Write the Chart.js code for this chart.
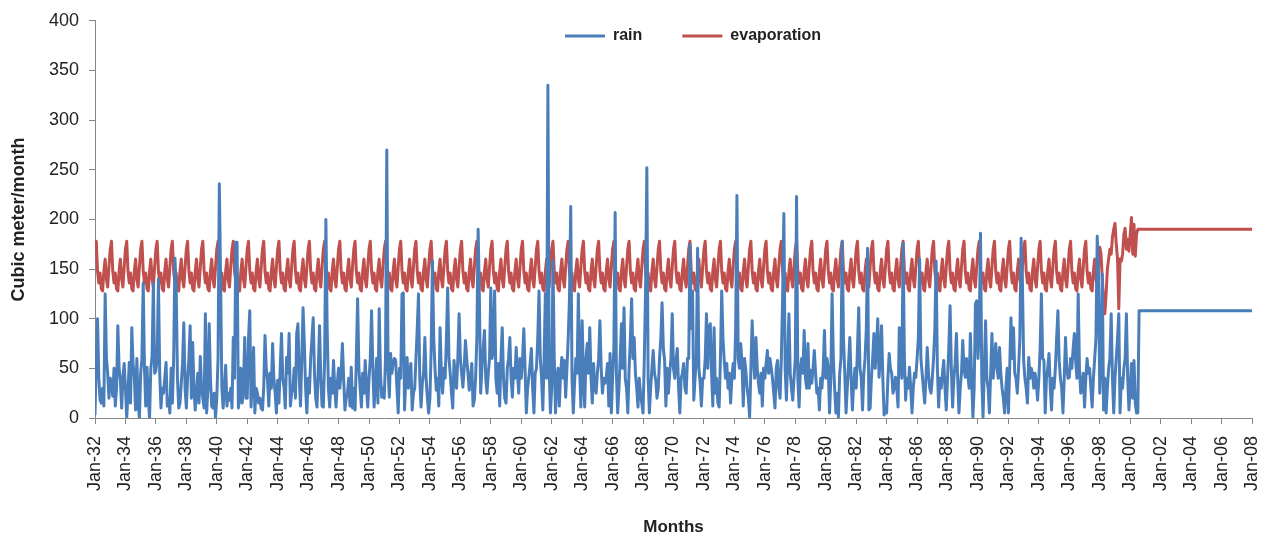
<!DOCTYPE html>
<html>
<head>
<meta charset="utf-8">
<script src="https://cdn.jsdelivr.net/npm/chart.js@4.4.1/dist/chart.umd.min.js"></script>
<style>
    html, body { margin: 0; padding: 0; background: #fff; }
    #wrap { width: 1263px; height: 540px; position: relative; }
</style>
</head>
<body>
<div id="wrap"><canvas id="rain-evap-chart"></canvas></div>
<script>
// monthly series, Jan-32 .. Jan-08
const firstYear = 1932;
const lastYear = 2008;
const monthNames = ['Jan', 'Feb', 'Mar', 'Apr', 'May', 'Jun', 'Jul', 'Aug', 'Sep', 'Oct', 'Nov', 'Dec'];

// rain, one row per year (Jan..Dec)
const rain1930s = [
    3, 60, 100, 40, 18, 15, 30, 12, 125, 60, 45, 20,
    40, 35, 22, 50, 12, 30, 93, 50, 38, 10, 41, 55,
    30, 0, 25, 56, 15, 91, 55, 40, 8, 60, 15, 0,
    45, 60, 136, 50, 12, 51, 20, 0, 50, 62, 136, 45,
    48, 60, 140, 45, 10, 30, 25, 40, 56, 12, 20, 5,
    50, 15, 60, 161, 130, 40, 10, 15, 35, 55, 96, 30,
    10, 40, 60, 93, 20, 76, 30, 8, 25, 45, 15, 62,
    30, 20, 10, 105, 5, 30, 95, 40, 12, 10, 25, 0
];
const rain1940s = [
    20, 60, 236, 140, 30, 10, 30, 53, 12, 25, 18, 30,
    10, 81, 40, 177, 177, 10, 20, 50, 15, 30, 81, 20,
    20, 80, 108, 11, 40, 71, 5, 30, 25, 15, 20, 10,
    8, 30, 83, 50, 38, 12, 45, 30, 75, 40, 25, 5,
    38, 15, 50, 85, 40, 31, 10, 61, 45, 85, 12, 25,
    30, 50, 20, 85, 95, 40, 12, 60, 111, 75, 30, 5,
    40, 25, 60, 80, 101, 45, 20, 11, 50, 93, 40, 12,
    11, 60, 200, 90, 30, 11, 40, 25, 58, 30, 11, 35,
    50, 30, 45, 75, 40, 8, 20, 25, 40, 12, 51, 10,
    30, 8, 60, 120, 50, 30, 11, 45, 25, 58, 30, 11
];
const rain1950s = [
    40, 60, 108, 50, 11, 35, 60, 15, 110, 45, 21, 30,
    20, 60, 270, 50, 21, 65, 45, 55, 60, 58, 30, 5,
    50, 40, 125, 126, 8, 40, 61, 30, 45, 55, 8, 25,
    30, 60, 90, 125, 40, 11, 35, 45, 81, 40, 20, 5,
    20, 70, 158, 80, 50, 28, 40, 12, 91, 45, 25, 50,
    40, 80, 131, 60, 45, 25, 10, 58, 40, 30, 60, 105,
    60, 45, 31, 50, 78, 60, 45, 28, 40, 55, 12, 18,
    40, 80, 190, 120, 25, 50, 70, 88, 40, 25, 45, 60,
    131, 60, 70, 128, 40, 25, 55, 12, 60, 91, 40, 20,
    15, 50, 60, 81, 40, 21, 50, 40, 71, 45, 25, 60
];
const rain1960s = [
    40, 58, 90, 50, 5, 30, 41, 55, 70, 30, 5, 45,
    50, 80, 128, 60, 40, 8, 60, 125, 40, 335, 50, 5,
    30, 158, 60, 5, 40, 50, 12, 45, 61, 40, 58, 21,
    50, 80, 120, 213, 40, 5, 35, 60, 45, 125, 50, 11,
    98, 40, 11, 60, 75, 45, 91, 40, 15, 55, 30, 25,
    45, 60, 98, 50, 25, 40, 35, 41, 55, 12, 65, 5,
    40, 70, 207, 45, 5, 30, 60, 95, 50, 111, 40, 30,
    5, 50, 80, 120, 60, 81, 45, 30, 11, 40, 25, 15,
    5, 60, 130, 252, 40, 5, 30, 50, 68, 45, 38, 20,
    30, 60, 80, 116, 70, 58, 12, 50, 25, 45, 60, 105
];
const rain1970s = [
    50, 40, 58, 70, 30, 5, 40, 45, 55, 30, 25, 60,
    60, 175, 90, 128, 18, 40, 60, 171, 50, 35, 12, 40,
    40, 60, 105, 50, 91, 95, 45, 12, 91, 25, 40, 15,
    11, 60, 128, 80, 58, 40, 55, 30, 45, 15, 40, 55,
    40, 90, 224, 60, 50, 75, 55, 12, 60, 48, 30, 20,
    1, 50, 98, 60, 40, 81, 50, 35, 25, 45, 12, 50,
    40, 55, 68, 45, 60, 51, 40, 25, 10, 50, 58, 30,
    20, 60, 120, 206, 50, 18, 60, 105, 45, 30, 18, 40,
    60, 223, 40, 11, 50, 60, 45, 88, 40, 30, 75, 30,
    48, 35, 50, 68, 45, 25, 30, 8, 40, 30, 50, 88
];
const rain1980s = [
    40, 60, 50, 5, 40, 125, 60, 30, 5, 25, 1, 45,
    60, 178, 80, 45, 5, 30, 55, 81, 40, 8, 35, 50,
    30, 70, 111, 50, 40, 8, 45, 60, 90, 171, 8, 10,
    40, 60, 85, 50, 70, 100, 41, 60, 93, 40, 3, 10,
    5, 40, 65, 50, 45, 25, 30, 41, 30, 11, 91, 60,
    40, 176, 60, 18, 40, 30, 51, 30, 5, 30, 45, 41,
    60, 80, 160, 60, 45, 30, 15, 40, 71, 45, 30, 25,
    40, 60, 90, 158, 50, 11, 40, 30, 45, 58, 30, 8,
    40, 70, 113, 50, 11, 40, 55, 85, 40, 5, 30, 45,
    78, 50, 41, 60, 45, 30, 85, 40, 1, 30, 115, 118
];
const rain1990s = [
    60, 90, 186, 40, 1, 50, 98, 40, 30, 5, 45, 85,
    40, 60, 75, 50, 40, 71, 45, 30, 20, 5, 30, 50,
    5, 50, 101, 60, 91, 45, 40, 25, 50, 80, 181, 140,
    58, 40, 30, 15, 61, 40, 50, 45, 30, 45, 35, 18,
    40, 70, 125, 60, 58, 5, 40, 50, 65, 30, 8, 40,
    30, 50, 80, 108, 58, 40, 30, 5, 40, 81, 50, 40,
    41, 60, 50, 70, 85, 58, 40, 125, 50, 25, 30, 45,
    11, 40, 60, 45, 50, 30, 11, 40, 60, 80, 183, 140,
    25, 60, 145, 8, 40, 5, 30, 50, 60, 105, 40, 5,
    40, 60, 80, 105, 5, 40, 30, 50, 60, 105, 40, 8
];
const rain2000 = [30, 55, 20, 58, 15, 5, 5];   // Jan-00 .. Jul-00
const rainLevel = 108;                          // Aug-00 onwards

// evaporation: same yearly cycle 1932-1997, then an irregular stretch, then flat
const evapCycle = [170, 178, 148, 136, 146, 130, 128, 148, 160, 140, 132, 152];
const evapTail = [
    172, 165, 140, 118, 105, 125, 150, 160, 170, 165, 182, 190,
    196, 175, 160, 110, 160, 158, 165, 185, 191, 170, 180, 168,
    185, 202, 165, 195, 163, 185
];                                               // Jan-98 .. Jun-00
const evapLevel = 190;                           // Jul-00 onwards
const evapCycleLastYear = 1997;

const yTicks = { min: 0, max: 400, step: 50 };
const xTickStep = 24; // every second January

const monthLabels = [];
for (let y = firstYear; y < lastYear; y++) {
    monthNames.forEach(m => monthLabels.push(m + '-' + String(y % 100).padStart(2, '0')));
}
monthLabels.push('Jan-' + String(lastYear % 100).padStart(2, '0'));

const rain = [].concat(rain1930s, rain1940s, rain1950s, rain1960s, rain1970s, rain1980s, rain1990s, rain2000);
while (rain.length < monthLabels.length) rain.push(rainLevel);

const evaporation = [];
for (let y = firstYear; y <= evapCycleLastYear; y++) evaporation.push(...evapCycle);
evaporation.push(...evapTail);
while (evaporation.length < monthLabels.length) evaporation.push(evapLevel);

const toPoints = arr => arr.map((v, i) => ({ x: i, y: v }));

// legend sits inside the plot area, like the Excel original
const legendOverlay = {
    id: 'legendOverlay',
    beforeLayout(chart) {
        const legend = chart.legend;
        if (!legend || legend._overlay) return;
        const fit = legend.fit;
        legend.fit = function() { fit.call(this); this.height = 0; };
        legend._overlay = true;
    },
    afterLayout(chart) {
        const legend = chart.legend;
        legend.left += 67;
        legend.right += 67;
        legend.top = -12;
        legend.bottom = 60;
    }
};

Chart.defaults.font.family = "'Liberation Sans', Arial, sans-serif";
Chart.defaults.color = '#222';

const axisGray = '#868686';

new Chart(document.getElementById('rain-evap-chart').getContext('2d'), {
    type: 'line',
    data: {
        datasets: [
            {
                label: 'rain',
                data: toPoints(rain),
                borderColor: '#4a7ebb',
                backgroundColor: '#4a7ebb',
                borderWidth: 3,
                pointRadius: 0,
                tension: 0,
                borderJoinStyle: 'round'
            },
            {
                label: 'evaporation',
                data: toPoints(evaporation),
                borderColor: '#c0504d',
                backgroundColor: '#c0504d',
                borderWidth: 3,
                pointRadius: 0,
                tension: 0,
                borderJoinStyle: 'round'
            }
        ]
    },
    options: {
        responsive: true,
        maintainAspectRatio: false,
        animation: false,
        events: [],
        layout: {
            padding: { top: 18, right: 11, bottom: 0, left: 0 }
        },
        scales: {
            x: {
                type: 'linear',
                min: 0,
                max: monthLabels.length - 1,
                afterFit: scale => {
                    scale.height = 122;
                    scale.paddingLeft = 0;
                    scale.paddingRight = 0;
                },
                grid: {
                    drawOnChartArea: false,
                    drawTicks: true,
                    tickLength: 6,
                    color: axisGray
                },
                border: { color: axisGray },
                ticks: {
                    stepSize: xTickStep,
                    autoSkip: false,
                    minRotation: 90,
                    maxRotation: 90,
                    padding: 12,
                    font: { size: 18 },
                    callback: value => monthLabels[value]
                },
                title: {
                    display: true,
                    text: 'Months',
                    font: { size: 17, weight: 'bold' },
                    padding: { top: 0, bottom: 2 }
                }
            },
            y: {
                min: yTicks.min,
                max: yTicks.max,
                afterFit: scale => { scale.width = 95; },
                grid: {
                    drawOnChartArea: false,
                    drawTicks: true,
                    tickLength: 6,
                    color: axisGray
                },
                border: { color: axisGray },
                ticks: {
                    stepSize: yTicks.step,
                    padding: 10,
                    font: { size: 18 }
                },
                title: {
                    display: true,
                    text: 'Cubic meter/month',
                    font: { size: 18, weight: 'bold' },
                    padding: { top: 8, bottom: 0 }
                }
            }
        },
        plugins: {
            legend: {
                position: 'top',
                labels: {
                    usePointStyle: true,
                    pointStyle: 'line',
                    pointStyleWidth: 40,
                    padding: 40,
                    font: { size: 16, weight: 'bold' },
                    sort: (a, b) => a.datasetIndex - b.datasetIndex
                }
            },
            tooltip: { enabled: false }
        }
    },
    plugins: [legendOverlay]
});
</script>
</body>
</html>
